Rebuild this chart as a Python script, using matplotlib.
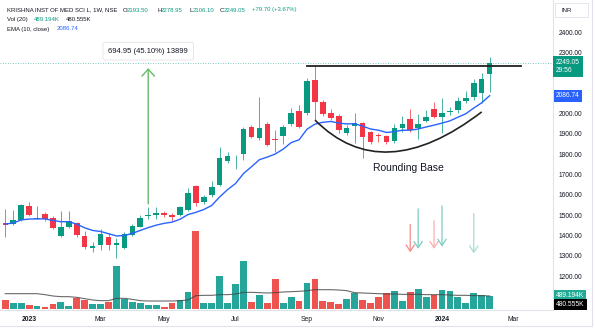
import matplotlib
matplotlib.use('Agg')
import matplotlib.pyplot as plt
from matplotlib.path import Path
from matplotlib.patches import PathPatch, Rectangle
from matplotlib.lines import Line2D
from matplotlib import transforms

plt.rcParams['font.family'] = ['Liberation Sans', 'DejaVu Sans']

# weekly candles, Dec 2022 .. Feb 2024
opens = [1460, 1454, 1475, 1546, 1482, 1505, 1487, 1395, 1443, 1460,
         1398, 1340, 1352, 1393, 1353, 1340, 1400, 1443, 1493, 1498,
         1511, 1502, 1502, 1525, 1643, 1564, 1598, 1648, 1767, 1788,
         1800, 1934, 1877, 1948, 1873, 1888, 1950, 2012, 2000, 2165,
         2057, 2000, 1988, 1902, 1940, 1951, 1907, 1892, 1889, 1864,
         1930, 1970, 1927, 1964, 2020, 1980, 2005, 2017, 2063, 2082,
         2100, 2193.50]
highs = [1529, 1525, 1554, 1565, 1545, 1515, 1495, 1520, 1520, 1465,
         1420, 1365, 1430, 1410, 1387, 1418, 1455, 1500, 1541, 1541,
         1520, 1508, 1545, 1632, 1650, 1598, 1665, 1832, 1812, 1795,
         1935, 1945, 2080, 1957, 1918, 1945, 2026, 2041, 2172, 2233,
         2065, 2020, 1995, 1945, 2000, 1955, 1915, 1905, 1895, 1948,
         1985, 2021, 1997, 2015, 2057, 2074, 2030, 2080, 2110, 2170,
         2197, 2278.95]
lows = [1392, 1450, 1470, 1495, 1478, 1470, 1430, 1390, 1435, 1390,
        1335, 1320, 1330, 1330, 1289, 1335, 1395, 1440, 1480, 1478,
        1488, 1470, 1496, 1520, 1545, 1555, 1590, 1643, 1757, 1726,
        1770, 1880, 1870, 1840, 1812, 1850, 1940, 1928, 1990, 1967,
        1985, 1965, 1905, 1895, 1855, 1779, 1850, 1860, 1850, 1855,
        1910, 1910, 1874, 1955, 1975, 1905, 1990, 2000, 2050, 2065,
        2050, 2106.10]
closes = [1451, 1475, 1549, 1500, 1486, 1480, 1435, 1440, 1470, 1400,
          1344, 1350, 1405, 1352, 1363, 1407, 1447, 1487, 1500, 1511,
          1502, 1492, 1538, 1607, 1560, 1590, 1636, 1779, 1790, 1790,
          1922, 1885, 1930, 1845, 1868, 1931, 2000, 1934, 2158, 2057,
          1995, 1979, 1918, 1930, 1951, 1885, 1860, 1888, 1860, 1926,
          1946, 1920, 1948, 1980, 1980, 2000, 2010, 2062, 2077, 2148,
          2169.35, 2249.05]
ema10 = [1456, 1460, 1476, 1480, 1481, 1481, 1473, 1467, 1467, 1455,
         1437, 1424, 1419, 1408, 1397, 1399, 1410, 1424, 1438, 1450,
         1459, 1465, 1479, 1502, 1513, 1527, 1547, 1589, 1625, 1655,
         1704, 1737, 1772, 1785, 1800, 1824, 1856, 1870, 1922, 1947,
         1956, 1960, 1952, 1948, 1949, 1937, 1923, 1917, 1906, 1910,
         1917, 1917, 1923, 1933, 1942, 1952, 1963, 1981, 1998, 2026,
         2052, 2086.74]
# volume in thousands
volume = [319, 221, 221, 160, 110, 86, 196, 245, 110, 417,
          331, 184, 196, 258, 1594, 380, 245, 209, 135, 160,
          86, 209, 343, 613, 2858, 233, 233, 1227, 233, 920,
          1778, 258, 503, 233, 1116, 209, 454, 294, 945, 1092,
          307, 258, 196, 380, 601, 331, 221, 454, 577, 662,
          294, 638, 748, 454, 503, 711, 662, 454, 209, 589,
          515, 489.194]
vol_ma = [564, 564, 564, 564, 564, 528, 478, 454, 454, 429,
          380, 331, 307, 307, 393, 393, 356, 307, 294, 294,
          294, 294, 307, 331, 491, 503, 503, 528, 528, 552,
          613, 613, 601, 589, 601, 626, 638, 650, 675, 711,
          711, 711, 699, 675, 601, 589, 577, 564, 552, 552,
          540, 540, 540, 528, 528, 528, 515, 503, 503, 491,
          491, 480.555]

tick_pos = [3, 12, 20, 29, 38, 47, 55, 64]
tick_lab = ['2023', 'Mar', 'May', 'Jul', 'Sep', 'Nov', '2024', 'Mar']
# 2100 / 2200 sit under the last-price and EMA tags
price_ticks = [1200, 1300, 1400, 1500, 1600, 1700, 1800, 1900, 2000,
               2300, 2400]

# drawings on the chart
measure_bar, measure_lo, measure_hi = 18, 1541, 2236
resist_x, resist_y = [38, 65], 2235
arc_pts = [(39, 1967), (47.5, 1633), (60, 2007)]
down_arrows = [(51, 1467, 1303, '#f28b8b'), (52, 1544, 1320, '#7fcdc2'),
               (54, 1485, 1320, '#f7b0b0'), (55, 1558, 1331, '#7fcdc2'),
               (59, 1521, 1298, '#a6dcd5')]

UP = '#089981'
DN = '#f23645'
TXT = '#131722'
GRID = '#e0e3eb'

W, H = 595, 329
fig = plt.figure(figsize=(W / 100, H / 100), dpi=100)
ax = fig.add_axes([0, 19 / H, 553 / W, 310 / H])
axv = ax.twinx()
ax.set_zorder(2)
ax.patch.set_visible(False)
axv.set_zorder(1)

x = list(range(len(closes)))
up = [c >= o for o, c in zip(opens, closes)]
ccol = [UP if u else DN for u in up]
vcol = ['#26a69a' if u else '#ef5350' for u in up]

# volume pane (overlay)
axv.bar(x, volume, width=0.86, color=vcol, linewidth=0)
axv.plot(x, vol_ma, color='#444444', lw=0.8, alpha=0.8)
axv.set_ylim(-36.8, 11371)
axv.set_yticks([])
for s in axv.spines.values():
    s.set_visible(False)

# candles
ax.vlines(x, lows, highs, colors=ccol, lw=0.7, alpha=0.75, zorder=2)
bottoms = [min(o, c) for o, c in zip(opens, closes)]
heights = [max(abs(c - o), 4) for o, c in zip(opens, closes)]
ax.bar(x, heights, bottom=bottoms, width=0.7, color=ccol, linewidth=0, zorder=3)
ax.plot(x, ema10, color='#2962ff', lw=1.0, zorder=4)

ax.axhline(closes[-1], color='#26a69a', lw=0.6, ls=(0, (1, 2)), alpha=0.8, zorder=1)

ax.set_xlim(-0.667, 68.98)
ax.set_ylim(1032.8, 2557.4)

# annotations
ax.annotate('', xy=(measure_bar, measure_hi), xytext=(measure_bar, measure_lo),
            arrowprops=dict(arrowstyle='->,head_width=0.45,head_length=0.5',
                            color='#66bb6a', lw=1.0), zorder=5)
ax.text(measure_bar, 2306, '694.95 (45.10%) 13899', ha='center', va='center',
        fontsize=5.5, color=TXT, zorder=6,
        bbox=dict(boxstyle='round,pad=0.7,rounding_size=0.3', fc='white',
                  ec='#e3e3e3', lw=0.6))
ax.plot(resist_x, [resist_y, resist_y], color='#222222', lw=1.3, zorder=5)
arc = Path(arc_pts, [Path.MOVETO, Path.CURVE3, Path.CURVE3])
ax.add_patch(PathPatch(arc, fill=False, ec='#222222', lw=1.2, zorder=5))
ax.text(50.8, 1731, 'Rounding Base', ha='center', va='center', fontsize=7.5,
        color=TXT, zorder=6)
for bx, top, bot, col in down_arrows:
    ax.annotate('', xy=(bx, bot), xytext=(bx, top),
                arrowprops=dict(arrowstyle='->,head_width=0.3,head_length=0.45',
                                color=col, lw=0.9), zorder=5)

# axes styling
for side in ['left', 'top']:
    ax.spines[side].set_visible(False)
ax.spines['right'].set_color(GRID)
ax.spines['bottom'].set_color(GRID)
ax.spines['right'].set_linewidth(0.8)
ax.spines['bottom'].set_linewidth(0.8)
ax.yaxis.tick_right()
ax.set_yticks(price_ticks)
ax.set_yticklabels(['%.2f' % p for p in price_ticks])
ax.tick_params(axis='y', length=0, pad=3.8, labelsize=4.8, labelcolor=TXT)
ax.set_xticks(tick_pos)
ax.set_xticklabels(tick_lab)
ax.tick_params(axis='x', length=0, pad=4.2, labelsize=4.9, labelcolor=TXT)
for lab in ax.get_xticklabels():
    if lab.get_text().isdigit():
        lab.set_fontweight('bold')

# price / volume labels on the scale
tp = transforms.blended_transform_factory(ax.transAxes, ax.transData)
tv = transforms.blended_transform_factory(ax.transAxes, axv.transData)
ax.annotate('%.2f\n29:56' % closes[-1], xy=(1, closes[-1]), xycoords=tp,
            xytext=(3, -3.8), textcoords='offset pixels', ha='left', va='center',
            fontsize=4.8, color='white', linespacing=1.25, zorder=7,
            bbox=dict(boxstyle='square,pad=0.45', fc=UP, ec='none'))
ax.annotate('%.2f' % ema10[-1], xy=(1, ema10[-1]), xycoords=tp,
            xytext=(3, 0), textcoords='offset pixels', ha='left', va='center',
            fontsize=4.8, color='white', zorder=7,
            bbox=dict(boxstyle='square,pad=0.35', fc='#2962ff', ec='none'))
ax.annotate('%.3fK' % volume[-1], xy=(1, volume[-1]), xycoords=tv,
            xytext=(3, 0), textcoords='offset pixels', ha='left', va='center',
            fontsize=4.8, color='white', zorder=7,
            bbox=dict(boxstyle='square,pad=0.3', fc='#22ab94', ec='none'))
ax.annotate('%.3fK' % vol_ma[-1], xy=(1, volume[-1]), xycoords=tv,
            xytext=(3, -8.6), textcoords='offset pixels', ha='left', va='center',
            fontsize=4.8, color='white', zorder=7,
            bbox=dict(boxstyle='square,pad=0.3', fc='black', ec='none'))


def px(xp, yp):
    return xp / W, 1 - yp / H


fig.patches.append(Rectangle(px(555, 17), 33 / W, 14 / H, transform=fig.transFigure,
                             fc='white', ec=GRID, lw=0.6))
fig.text(*px(561, 10), 'INR', fontsize=4.3, color=TXT, va='center')
fig.lines.append(Line2D([592 / W, 592 / W], [1 - 326 / H, 1], transform=fig.transFigure,
                        color=GRID, lw=0.8))
fig.lines.append(Line2D([0, 592 / W], [1 - 326 / H, 1 - 326 / H], transform=fig.transFigure,
                        color=GRID, lw=0.8))

# legend header
green = '#089981'
hdr = [
    ('KRISHNA INST OF MED SCI L, 1W, NSE', 6.7, 10, TXT),
    ('O', 123, 10, TXT), ('%.2f' % opens[-1], 127, 10, green),
    ('H', 157, 10, TXT), ('%.2f' % highs[-1], 161, 10, green),
    ('L', 189, 10, TXT), ('%.2f' % lows[-1], 192.5, 10, green),
    ('C', 220, 10, TXT), ('%.2f' % closes[-1], 224, 10, green),
    ('+79.70 (+3.67%)', 252, 10, green),
    ('Vol (20)', 6.7, 19.5, TXT), ('%.3fK' % volume[-1], 34, 19.5, green),
    ('%.3fK' % vol_ma[-1], 66, 19.5, TXT),
    ('EMA (10, close)', 6.7, 29, TXT), ('%.2f' % ema10[-1], 57, 29, '#2962ff'),
]
for s, hx, hy, col in hdr:
    fig.text(*px(hx, hy), s, fontsize=4.3, color=col, va='center', ha='left')

fig.savefig('out.png', dpi=100, facecolor='white')
